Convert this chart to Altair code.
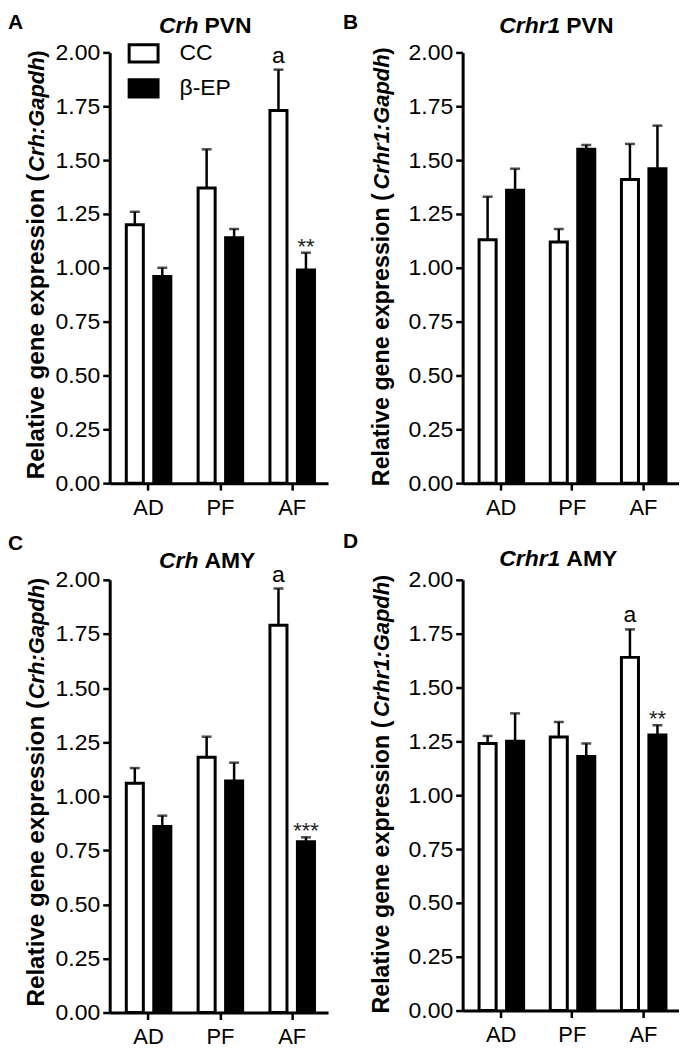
import altair as alt
import pandas as pd

FONT = "Liberation Sans"

groups = ["AD", "PF", "AF"]
treatments = ["CC", "β-EP"]
y_ticks = [0.0, 0.25, 0.5, 0.75, 1.0, 1.25, 1.5, 1.75, 2.0]

# Panel A: Crh PVN
a_cc_mean = [1.20, 1.37, 1.73]
a_cc_sem = [0.06, 0.18, 0.19]
a_ep_mean = [0.96, 1.14, 0.99]
a_ep_sem = [0.04, 0.04, 0.08]
a_notes = [("AF", "CC", "a"), ("AF", "β-EP", "**")]

# Panel B: Crhr1 PVN
b_cc_mean = [1.13, 1.12, 1.41]
b_cc_sem = [0.20, 0.06, 0.165]
b_ep_mean = [1.36, 1.55, 1.46]
b_ep_sem = [0.10, 0.02, 0.20]
b_notes = []

# Panel C: Crh AMY
c_cc_mean = [1.06, 1.18, 1.79]
c_cc_sem = [0.07, 0.095, 0.17]
c_ep_mean = [0.86, 1.07, 0.79]
c_ep_sem = [0.05, 0.085, 0.02]
c_notes = [("AF", "CC", "a"), ("AF", "β-EP", "***")]

# Panel D: Crhr1 AMY
d_cc_mean = [1.24, 1.27, 1.64]
d_cc_sem = [0.035, 0.07, 0.13]
d_ep_mean = [1.25, 1.18, 1.28]
d_ep_sem = [0.13, 0.06, 0.045]
d_notes = [("AF", "CC", "a"), ("AF", "β-EP", "**")]


def panel(letter, gene, region, cc_m, cc_s, ep_m, ep_s, notes, w, h,
          lx, ly, ty, ytx, legend=False):
    rows = []
    for i, g in enumerate(groups):
        rows.append(dict(group=g, treat="CC", mean=cc_m[i], top=cc_m[i] + cc_s[i]))
        rows.append(dict(group=g, treat="β-EP", mean=ep_m[i], top=ep_m[i] + ep_s[i]))
    df = pd.DataFrame(rows)
    tops = {(r["group"], r["treat"]): r["top"] for r in rows}
    ndf = pd.DataFrame([dict(group=g, treat=t, label=l, top=tops[(g, t)],
                             kind=("a" if l == "a" else "star")) for g, t, l in notes],
                       columns=["group", "treat", "label", "top", "kind"])

    xenc = alt.X("group:N", sort=groups,
                 scale=alt.Scale(domain=groups, paddingInner=0.38, paddingOuter=0.21, align=0.55),
                 axis=alt.Axis(title=None, labelAngle=0, labelPadding=7))
    xo = alt.XOffset("treat:N", sort=treatments,
                     scale=alt.Scale(domain=treatments, paddingInner=0.38, paddingOuter=0))
    yenc = alt.Y("mean:Q", scale=alt.Scale(domain=[0, 2], nice=False),
                 axis=alt.Axis(title=None, values=y_ticks, format=".2f", labelPadding=3))
    if legend:
        leg = alt.Legend(title=None, orient="none", legendX=18, legendY=-15,
                         symbolType="M-1,-0.6L1,-0.6L1,0.6L-1,0.6Z", symbolSize=841,
                         symbolStrokeColor="black", symbolStrokeWidth=3,
                         labelFont=FONT, labelFontSize=23, labelColor="black",
                         labelOffset=20, rowPadding=4)
    else:
        leg = None
    fill = alt.Fill("treat:N", scale=alt.Scale(domain=treatments, range=["white", "black"]),
                    legend=leg)

    base = alt.Chart(df)
    bars = base.mark_bar(stroke="black", strokeWidth=3).encode(x=xenc, xOffset=xo, y=yenc, fill=fill)
    err = base.mark_rule(color="black", strokeWidth=2.5).encode(
        x=xenc, xOffset=xo, y="mean:Q", y2="top:Q")
    cap = base.mark_tick(color="black", orient="horizontal", size=10, thickness=2.5).encode(
        x=xenc, xOffset=xo, y="top:Q")

    layers = [bars, err, cap]
    if len(ndf):
        nb = alt.Chart(ndf)
        layers.append(nb.transform_filter(alt.datum.kind == "a").mark_text(
            font=FONT, fontSize=23, color="black", baseline="alphabetic", dy=-7).encode(
            x=xenc, xOffset=xo, y="top:Q", text="label:N"))
        layers.append(nb.transform_filter(alt.datum.kind == "star").mark_text(
            font=FONT, fontSize=22, color="#222222", baseline="alphabetic", dy=1).encode(
            x=xenc, xOffset=xo, y="top:Q", text="label:N"))

    long_gene = len(gene) > 3
    one = lambda v: alt.Chart(pd.DataFrame({"t": [v]}))
    layers.append(one(letter).mark_text(font=FONT, fontSize=21, fontWeight="bold", align="left",
                                        baseline="alphabetic", color="black").encode(
        x=alt.value(lx), y=alt.value(ly), text="t:N"))
    layers.append(one(gene).mark_text(font=FONT, fontSize=23, fontWeight="bold", fontStyle="italic",
                                      align="right", baseline="alphabetic", color="black").encode(
        x=alt.value(98 if long_gene else 89), y=alt.value(ty), text="t:N"))
    layers.append(one(region).mark_text(font=FONT, fontSize=23, fontWeight="bold",
                                        align="left", baseline="alphabetic", color="black").encode(
        x=alt.value(104 if long_gene else 95), y=alt.value(ty), text="t:N"))
    # y-axis title, in three parts
    layers.append(one("Relative gene expression (").mark_text(
        font=FONT, fontSize=(23.3 if long_gene else 24.3), fontWeight="bold", angle=270,
        align="left", baseline="middle", color="black").encode(
        x=alt.value(ytx), y=alt.value(h + 3 if long_gene else 428), text="t:N"))
    layers.append(one(gene + ":Gapdh").mark_text(
        font=FONT, fontSize=22, fontWeight="bold", fontStyle="italic", angle=270, align="right",
        baseline="middle", color="black").encode(
        x=alt.value(ytx), y=alt.value(2 if long_gene else 5), text="t:N"))
    layers.append(one(")").mark_text(
        font=FONT, fontSize=22, fontWeight="bold", angle=270, align="right", baseline="middle",
        color="black").encode(x=alt.value(ytx), y=alt.value(-5 if long_gene else -2), text="t:N"))

    return alt.layer(*layers).properties(width=w, height=h)


pA = panel("A", "Crh", "PVN", a_cc_mean, a_cc_sem, a_ep_mean, a_ep_sem, a_notes,
           219, 432, -102, -23, -19, -73, legend=True)
pB = panel("B", "Crhr1", "PVN", b_cc_mean, b_cc_sem, b_ep_mean, b_ep_sem, b_notes,
           217, 432, -120, -23, -19, -81)
pC = panel("C", "Crh", "AMY", c_cc_mean, c_cc_sem, c_ep_mean, c_ep_sem, c_notes,
           219, 434, -102, -30, -12, -73)
pD = panel("D", "Crhr1", "AMY", d_cc_mean, d_cc_sem, d_ep_mean, d_ep_sem, d_notes,
           217, 432, -120, -32, -14, -81)

row1 = alt.hconcat(pA, pB, spacing=15).resolve_legend(fill="independent")
row2 = alt.hconcat(pC, pD, spacing=15).resolve_legend(fill="independent")

chart = alt.vconcat(row1, row2, spacing=13).resolve_legend(fill="independent").properties(
    padding={"left": 0, "top": 3, "right": 0, "bottom": 0},
    background="white",
).configure_view(stroke=None).configure_axis(
    labelFont=FONT, labelColor="black",
    domainColor="black", domainWidth=3, tickColor="black", tickWidth=2.5, tickSize=7,
    grid=False,
).configure_axisX(labelFontSize=22).configure_axisY(labelFontSize=23)

chart.save("out.html", embed_options={"renderer": "svg", "actions": False})
